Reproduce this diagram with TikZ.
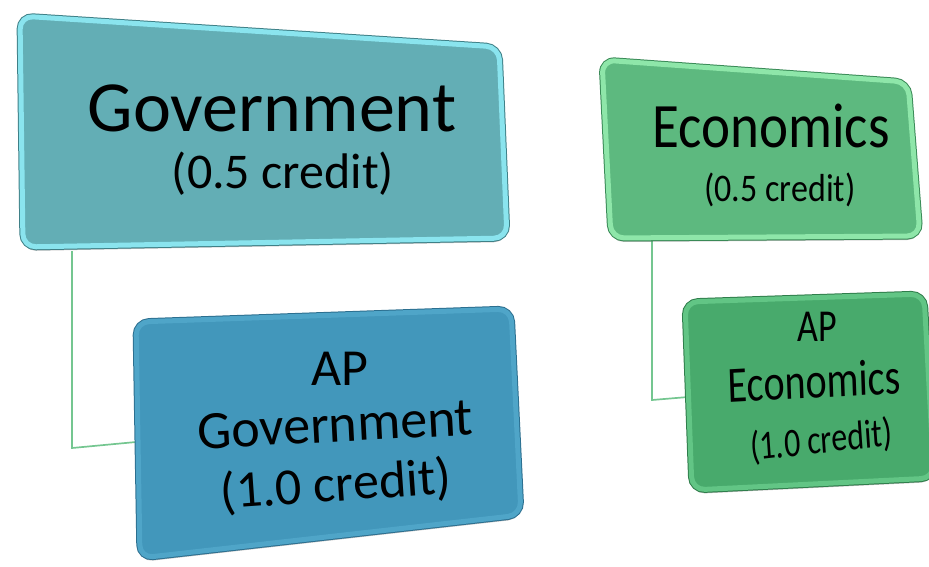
\documentclass[tikz,border=0pt]{standalone}
\usepackage{fontspec}
\setmainfont{Carlito}
\usepackage{tikz}

\definecolor{govfill}{HTML}{63AEB5}
\definecolor{govlight}{HTML}{8AE4EE}
\definecolor{govdark}{HTML}{3F8087}
\definecolor{apgovfill}{HTML}{4297BB}
\definecolor{apgovlight}{HTML}{4FA5C8}
\definecolor{apgovdark}{HTML}{2C6F8F}
\definecolor{ecofill}{HTML}{5DB97F}
\definecolor{ecolight}{HTML}{8EE6A9}
\definecolor{ecodark}{HTML}{3A8A57}
\definecolor{apecofill}{HTML}{48AA6C}
\definecolor{apecolight}{HTML}{62C585}
\definecolor{apecodark}{HTML}{2F7D4B}
\definecolor{linkgreen}{HTML}{74C690}

\begin{document}
\begin{tikzpicture}[x=1pt,y=-1pt,
  card/.style n args={3}{fill=#1, draw=#2, line width=5pt, rounded corners=13pt,
    preaction={fill=black, opacity=0.25, transform canvas={yshift=-4pt}},
    preaction={draw=#3, line width=7pt}},
  link/.style={draw=linkgreen, line width=1.7pt},
  txt/.style={anchor=base, inner sep=0pt}]
  \useasboundingbox (0,0) rectangle (929,566);

  % corners of the four cards
  \coordinate (g1) at (20,16);   \coordinate (g2) at (499,47);
  \coordinate (g3) at (507,238); \coordinate (g4) at (23,247);
  \coordinate (e1) at (602,60);  \coordinate (e2) at (908,82);
  \coordinate (e3) at (920,236); \coordinate (e4) at (611,238);
  \coordinate (a1) at (136,322); \coordinate (a2) at (511,309);
  \coordinate (a3) at (521,515); \coordinate (a4) at (140,558);
  \coordinate (p1) at (685,302); \coordinate (p2) at (924,294);
  \coordinate (p3) at (934,478); \coordinate (p4) at (692,490);

  % connectors
  \coordinate (govstem) at (72,251);
  \coordinate (govbend) at (72,448);
  \coordinate (apgovin) at (136,442);
  \coordinate (ecostem) at (652,241);
  \coordinate (ecobend) at (652,400);
  \coordinate (apecoin) at (688,397);
  \draw[link] (govstem) -- (govbend) -- (apgovin);
  \draw[link] (ecostem) -- (ecobend) -- (apecoin);

  % cards
  \path[card={govfill}{govlight}{govdark}] (g1) -- (g2) -- (g3) -- (g4) -- cycle;
  \path[card={ecofill}{ecolight}{ecodark}] (e1) -- (e2) -- (e3) -- (e4) -- cycle;
  \path[card={apgovfill}{apgovlight}{apgovdark}] (a1) -- (a2) -- (a3) -- (a4) -- cycle;
  \path[card={apecofill}{apecolight}{apecodark}] (p1) -- (p2) -- (p3) -- (p4) -- cycle;

  % texts
  \node[txt] (gov) at (272,131) {\fontsize{72}{80}\selectfont Government};
  \node[txt] (govcr) at (283,188) {\fontsize{50}{56}\selectfont (0.5 credit)};
  \node[txt, yscale=1.15, transform shape] (eco) at (771,147) {\fontsize{55}{60}\selectfont Economics};
  \node[txt, yscale=1.15, transform shape] (ecocr) at (780,201) {\fontsize{34}{40}\selectfont (0.5 credit)};
  \node[txt] (apgov) at (340,385) {\fontsize{52}{60}\selectfont AP};
  \node[txt, rotate=3] (apgovname) at (336,442) {\fontsize{54}{60}\selectfont Government};
  \node[txt, rotate=4] (apgovcr) at (337,501) {\fontsize{52}{60}\selectfont (1.0 credit)};
  \node[txt, yscale=1.27, transform shape] (apeco) at (817,341) {\fontsize{36}{40}\selectfont AP};
  \node[txt, yscale=1.27, rotate=2.5, transform shape] (apeconame) at (815,398) {\fontsize{40}{44}\selectfont Economics};
  \node[txt, yscale=1.27, rotate=5, transform shape] (apecocr) at (822,453) {\fontsize{32}{36}\selectfont (1.0 credit)};
\end{tikzpicture}
\end{document}
